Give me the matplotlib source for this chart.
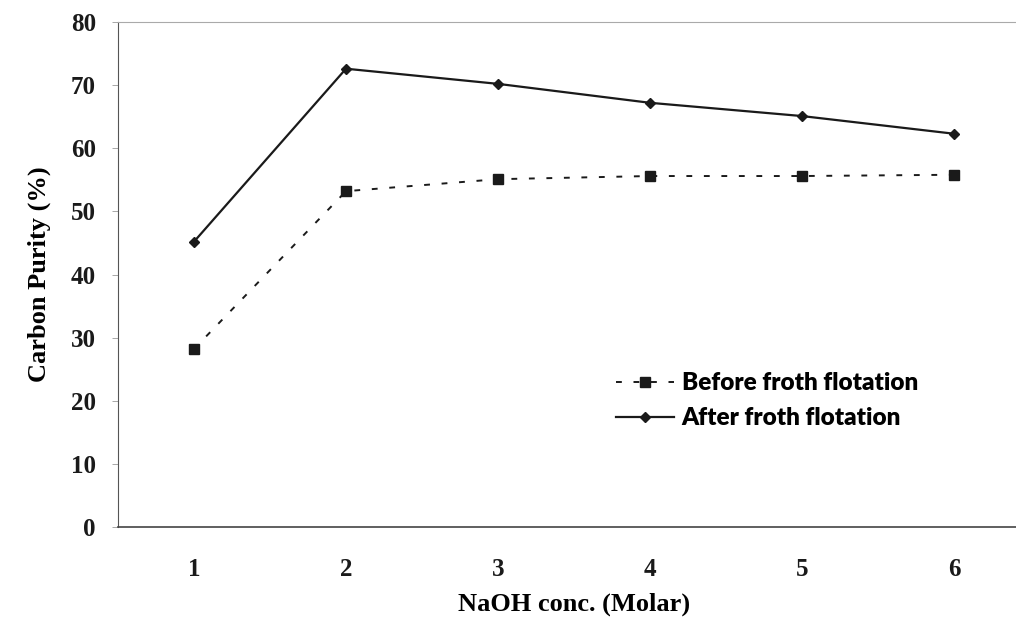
import matplotlib.pyplot as plt

conc = [1, 2, 3, 4, 5, 6]
before = [28.2, 53.2, 55.1, 55.6, 55.6, 55.8]
after = [45.2, 72.6, 70.2, 67.2, 65.1, 62.3]
y_ticks = [0, 10, 20, 30, 40, 50, 60, 70, 80]

fig = plt.figure(figsize=(10.16, 6.32), dpi=100)
ax = fig.add_axes([118 / 1016, 105 / 632, 912 / 1016, 505 / 632])

ax.plot(conc, before, color='#1a1a1a', ls=(0, (3, 6)), lw=1.4,
        marker='s', ms=7, label='Before froth flotation')
ax.plot(conc, after, color='#1a1a1a', ls='-', lw=1.6,
        marker='D', ms=5.5, label='After froth flotation')

ax.set_xlim(0.5, 6.5)
ax.set_ylim(0, 80)
ax.set_xticks(conc)
ax.set_yticks(y_ticks)

serif = {'family': 'Liberation Serif', 'weight': 'bold'}
for lab in ax.get_xticklabels() + ax.get_yticklabels():
    lab.set_fontfamily('Liberation Serif')
    lab.set_fontweight('bold')
    lab.set_fontsize(18)
ax.tick_params(axis='x', length=0, pad=22, colors='#1a1a1a')
ax.tick_params(axis='y', length=4, width=0.6, pad=12, colors='#1a1a1a',
               color='#999999')

ax.set_xlabel('NaOH conc. (Molar)', fontsize=19, labelpad=9, **serif)
ax.set_ylabel('Carbon Purity (%)', fontsize=19, **serif)
ax.yaxis.set_label_coords(-0.074, 0.5)

ax.spines['right'].set_visible(False)
ax.spines['top'].set_color('#aaaaaa')
ax.spines['top'].set_linewidth(0.8)
ax.spines['left'].set_color('#555555')
ax.spines['bottom'].set_color('#444444')
ax.spines['bottom'].set_linewidth(1.2)

ax.legend(loc='upper left', bbox_to_anchor=(0.522, 0.35), frameon=False,
          handlelength=2.4, handletextpad=0.3, labelspacing=0.55,
          prop={'family': 'Lato', 'weight': 'heavy', 'size': 17.5})

fig.savefig('out.png', dpi=100)
